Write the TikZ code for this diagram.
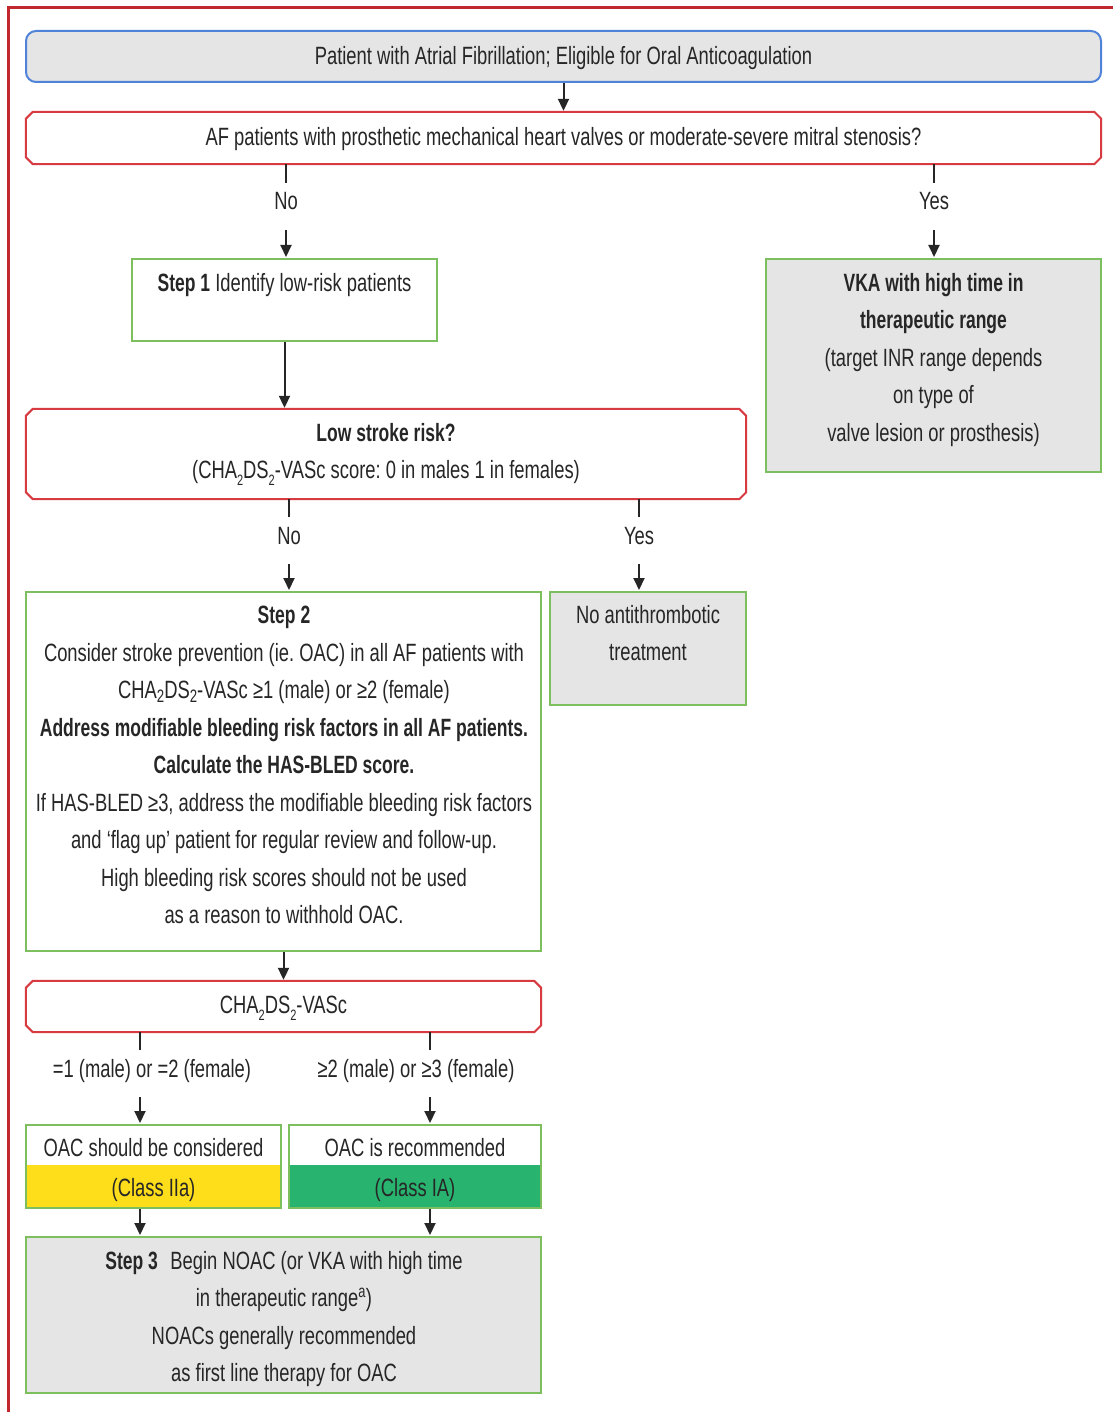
\documentclass[tikz,border=0pt]{standalone}
\usepackage{fontspec}
\setmainfont{Liberation Sans}[UprightFeatures={FakeStretch=0.735},
  BoldFeatures={FakeStretch=0.70}]
\usetikzlibrary{arrows.meta}
\frenchspacing

\definecolor{frameRed}{HTML}{C1272D}
\definecolor{decRed}{HTML}{D83A41}
\definecolor{topBlue}{HTML}{4F82D9}
\definecolor{boxGreen}{HTML}{7DBF5F}
\definecolor{boxGray}{HTML}{E5E5E5}
\definecolor{classYellow}{HTML}{FEDD1B}
\definecolor{classGreen}{HTML}{28B36F}
\definecolor{ink}{HTML}{262626}

% subscripts: deep small ones and the shallower ones used in running text
\newcommand{\lowsub}[1]{\raisebox{-0.5ex}{\fontsize{15}{15}\selectfont #1}}
\newcommand{\midsub}[1]{\raisebox{-0.3ex}{\fontsize{18}{18}\selectfont #1}}
% outline with cut corners drawn round a decision node
\newcommand{\chamferoutline}[1]{%
  \draw[decline] ([xshift=7pt]#1.north west) -- ([xshift=-7pt]#1.north east)
    -- ([yshift=-7pt]#1.north east) -- ([yshift=7pt]#1.south east)
    -- ([xshift=-7pt]#1.south east) -- ([xshift=7pt]#1.south west)
    -- ([yshift=7pt]#1.south west) -- ([yshift=-7pt]#1.north west) -- cycle;}

\begin{document}
\begin{tikzpicture}[x=1pt,y=-1pt,
  font=\fontsize{25}{37.5}\selectfont, text=ink,
  box/.style={rectangle, draw=boxGreen, line width=2pt, inner sep=0pt},
  graybox/.style={box, fill=boxGray},
  decision/.style={rectangle, inner sep=0pt},
  decline/.style={draw=decRed, line width=2pt, line join=miter},
  txt/.style={inner sep=0pt, align=center},
  lab/.style={inner sep=0pt, text height=27pt, text depth=20pt, anchor=base},
  stub/.style={line width=2pt, draw=ink},
  arr/.style={line width=2pt, draw=ink, shorten >=1pt,
    -{Triangle[width=11pt,length=12pt]}}]

\useasboundingbox (0,0) rectangle (1112,1412);
\fill[white] (0,0) rectangle (1112,1412);

% outer frame
\draw[frameRed, line width=3pt] (8,8) rectangle (1140,1440);

% start box
\node[rectangle, rounded corners=10pt, draw=topBlue, fill=boxGray, line width=2pt,
  minimum width=1075pt, minimum height=51pt, inner sep=0pt] (start) at (563.5,56.5) {};
\node[txt] (startt) at (563.5,58)
  {Patient with Atrial Fibrillation; Eligible for Oral Anticoagulation};

% first question
\node[decision, minimum width=1075pt, minimum height=52pt] (valve) at (563.5,138) {};
\chamferoutline{valve}
\node[txt] (valvet) at (563.5,139)
  {AF patients with prosthetic mechanical heart valves or moderate-severe mitral stenosis?};

% step 1
\node[box, minimum width=305pt, minimum height=82pt] (step1) at (284.5,300) {};
\node[txt] (step1t) at (284.5,285) {\textbf{Step 1} Identify low-risk patients};

% VKA outcome
\node[graybox, minimum width=335pt, minimum height=213pt] (vka) at (933.5,365.5) {};
\node[txt] (vkat) at (933.5,360) {\textbf{VKA with high time in}\\
  \textbf{therapeutic range}\\ (target INR range depends\\ on type of\\
  valve lesion or prosthesis)};

% low stroke risk question
\node[decision, minimum width=720pt, minimum height=90pt] (risk) at (386,454) {};
\chamferoutline{risk}
\node[txt] (riskt) at (386,454) {\textbf{Low stroke risk?}\\
  (CHA\lowsub{2}DS\lowsub{2}-VASc score: 0 in males 1 in females)};

% no antithrombotic treatment
\node[graybox, minimum width=196pt, minimum height=113pt] (noanti) at (648,648.5) {};
\node[txt] (noantit) at (648,633) {No antithrombotic\\ treatment};

% step 2
\node[box, minimum width=515pt, minimum height=359pt] (step2) at (283.5,771.5) {};
\node[txt] (step2t) at (284,765) {\textbf{Step 2}\\
  Consider stroke prevention (ie. OAC) in all AF patients with\\
  CHA\midsub{2}DS\midsub{2}-VASc ≥1 (male) or ≥2 (female)\\
  \textbf{Address modifiable bleeding risk factors in all AF patients.}\\
  \textbf{Calculate the HAS-BLED score.}\\
  If HAS-BLED ≥3, address the modifiable bleeding risk factors\\
  and ‘flag up’ patient for regular review and follow-up.\\
  High bleeding risk scores should not be used\\
  as a reason to withhold OAC.};

% CHA2DS2-VASc split
\node[decision, minimum width=515pt, minimum height=51pt] (score) at (283.5,1006.5) {};
\chamferoutline{score}
\node[txt] (scoret) at (283.5,1008) {CHA\lowsub{2}DS\lowsub{2}-VASc};

% class boxes
\node[box, fill=white, minimum width=255pt, minimum height=83pt,
  path picture={\fill[classYellow] (path picture bounding box.south west)
    rectangle ([yshift=43pt]path picture bounding box.south east);}]
  (consider) at (153.5,1166.5) {};
\node[txt] (considert) at (153.5,1148) {OAC should be considered};
\node[txt] (considerc) at (153.5,1190.5) {(Class IIa)};

\node[box, fill=white, minimum width=252pt, minimum height=83pt,
  path picture={\fill[classGreen] (path picture bounding box.south west)
    rectangle ([yshift=43pt]path picture bounding box.south east);}]
  (recommend) at (415,1166.5) {};
\node[txt] (recommendt) at (415,1148) {OAC is recommended};
\node[txt] (recommendc) at (415,1190.5) {(Class IA)};

% step 3
\node[graybox, minimum width=515pt, minimum height=156pt] (step3) at (283.5,1315) {};
\node[txt] (step3t) at (284,1319) {\textbf{Step 3}\enspace Begin NOAC (or VKA with high time\\
  in therapeutic range\textsuperscript{a})\\ NOACs generally recommended\\
  as first line therapy for OAC};

% branch labels
\node[lab] (no1) at (286,210) {No};
\node[lab] (yes1) at (934,210) {Yes};
\node[lab] (no2) at (289,544) {No};
\node[lab] (yes2) at (639,544) {Yes};
\node[lab] (low) at (152,1077) {=1 (male) or =2 (female)};
\node[lab] (high) at (416,1077) {≥2 (male) or ≥3 (female)};

% connectors
\draw[arr] (start.south -| valve.north) -- (valve.north);
\draw[stub] (valve.south -| no1) -- (no1.north);
\draw[arr] (no1.south) -- (no1.south |- step1.north);
\draw[stub] (valve.south -| yes1) -- (yes1.north);
\draw[arr] (yes1.south) -- (yes1.south |- vka.north);
\draw[arr] (step1.south) -- (step1.south |- risk.north);
\draw[stub] (risk.south -| no2) -- (no2.north);
\draw[arr] (no2.south) -- (no2.south |- step2.north);
\draw[stub] (risk.south -| yes2) -- (yes2.north);
\draw[arr] (yes2.south) -- (yes2.south |- noanti.north);
\draw[arr] (step2.south) -- (score.north);
\coordinate (lowx) at (140,0);
\coordinate (highx) at (430,0);
\draw[stub] (score.south -| lowx) -- (low.north -| lowx);
\draw[arr] (low.south -| lowx) -- (consider.north -| lowx);
\draw[stub] (score.south -| highx) -- (high.north -| highx);
\draw[arr] (high.south -| highx) -- (recommend.north -| highx);
\draw[arr] (consider.south -| lowx) -- (step3.north -| lowx);
\draw[arr] (recommend.south -| highx) -- (step3.north -| highx);
\end{tikzpicture}
\end{document}
